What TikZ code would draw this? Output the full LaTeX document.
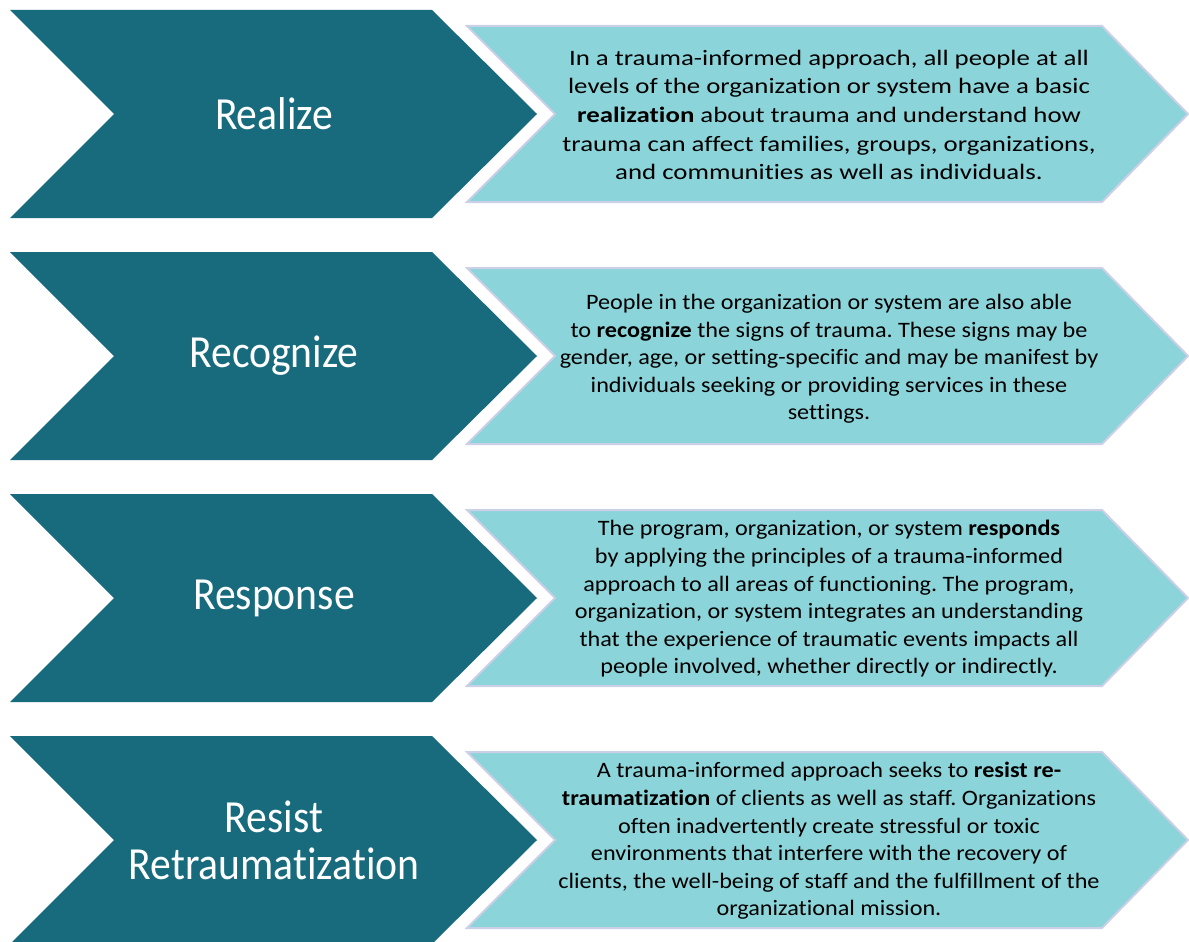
\documentclass[tikz,border=0pt]{standalone}
\usepackage{fontspec}
\setmainfont{Carlito}[Ligatures=NoCommon]
\newfontfamily\bodyfont{Carlito}[FakeStretch=1.22, Ligatures=NoCommon]
\newfontfamily\bodyfontnarrow{Carlito}[FakeStretch=1.10, Ligatures=NoCommon]
\newfontfamily\titlefont{Carlito}[FakeStretch=0.905, Ligatures=NoCommon]
\definecolor{darkteal}{HTML}{176B7D}
\definecolor{lightteal}{HTML}{8BD4D9}
\definecolor{rimcol}{HTML}{CBCFE7}
\frenchspacing
\tikzset{
  darkchev/.style={fill=darkteal, draw=none},
  lightchev/.style={fill=lightteal, draw=rimcol, line width=2pt, line join=miter},
  titletext/.style={text=white, align=center, font=\titlefont\fontsize{46}{47}\selectfont, inner sep=0pt},
  bodytext/.style={text=black, align=center, font=\bodyfont\fontsize{22}{28.6}\selectfont\frenchspacing, inner sep=0pt},
  bodytextnarrow/.style={text=black, align=center, font=\bodyfontnarrow\fontsize{22}{27.6}\selectfont\frenchspacing, inner sep=0pt}
}
\begin{document}
\begin{tikzpicture}[x=1pt,y=-1pt]
\useasboundingbox (0,0) rectangle (1189,942);
\foreach \k in {0,1,2,3}{
  \begin{scope}[yshift=-242*\k pt]
    \fill[darkchev] (10,10) -- (432,10) -- (537,114) -- (432,218) -- (10,218) -- (114,114) -- cycle;
    \filldraw[lightchev] (467,26) -- (1102,26) -- (1188,114) -- (1102,202) -- (467,202) -- (555,114) -- cycle;
  \end{scope}
}
\node[titletext] (t1) at (274,114) {Realize};
\node[titletext] (t2) at (274,356) {Recognize};
\node[titletext] (t3) at (274,598) {Response};
\node[titletext] (t4) at (274,840) {Resist\\Retraumatization};
\node[bodytext] (b1) at (829,115) {In a trauma-informed approach, all people at all\\levels of the organization or system have a basic\\\textbf{realization} about trauma and understand how\\trauma can affect families, groups, organizations,\\and communities as well as individuals.};
\node[bodytextnarrow] (b2) at (829,359) {People in the organization or system are also able\\to \textbf{recognize} the signs of trauma. These signs may be\\gender, age, or setting-specific and may be manifest by\\individuals seeking or providing services in these\\settings.};
\node[bodytextnarrow] (b3) at (829,599) {The program, organization, or system \textbf{responds}\\by applying the principles of a trauma-informed\\approach to all areas of functioning. The program,\\organization, or system integrates an understanding\\that the experience of traumatic events impacts all\\people involved, whether directly or indirectly.};
\node[bodytextnarrow] (b4) at (829,841) {A trauma-informed approach seeks to \textbf{resist re-}\\\textbf{traumatization} of clients as well as staff. Organizations\\often inadvertently create stressful or toxic\\environments that interfere with the recovery of\\clients, the well-being of staff and the fulfillment of the\\organizational mission.};
\end{tikzpicture}
\end{document}
